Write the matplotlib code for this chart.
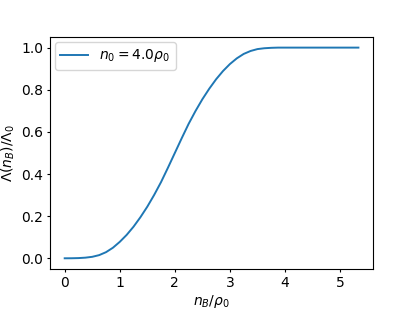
import matplotlib
matplotlib.use("Agg")
import matplotlib.pyplot as plt

# values
n_ratio = [0.0, 0.125, 0.25, 0.375, 0.5, 0.625, 0.75, 0.875, 1.0, 1.125, 1.25,
           1.375, 1.5, 1.625, 1.75, 1.875, 2.0, 2.125, 2.25, 2.375, 2.5, 2.625,
           2.75, 2.875, 3.0, 3.125, 3.25, 3.375, 3.5, 3.625, 3.75, 3.875, 4.0,
           4.5, 5.0, 5.333]
lam_ratio = [0.0, 0.0002, 0.001, 0.003, 0.007, 0.015, 0.029, 0.050, 0.078, 0.111,
             0.150, 0.195, 0.245, 0.301, 0.362, 0.430, 0.500, 0.570, 0.638, 0.699,
             0.755, 0.805, 0.850, 0.889, 0.922, 0.949, 0.970, 0.984, 0.993, 0.997,
             0.999, 1.0, 1.0, 1.0, 1.0, 1.0]

plt.rcParams['font.size'] = 10
plt.rcParams['xtick.major.size'] = 2.5
plt.rcParams['ytick.major.size'] = 2.5
plt.rcParams['xtick.major.pad'] = 2.5
plt.rcParams['ytick.major.pad'] = 2.5

fig, ax = plt.subplots(figsize=(4.15, 3.09), dpi=100)
fig.subplots_adjust(left=0.1205, right=0.899, top=0.88, bottom=0.13)

ax.plot(n_ratio, lam_ratio, color='tab:blue', linewidth=1.4, label=r'$n_0 = 4.0\rho_0$')

ax.set_xlabel(r'$n_B/\rho_0$', labelpad=2.0)
ax.set_ylabel(r'$\Lambda(n_B)/\Lambda_0$', labelpad=2.8)
ax.legend(loc='upper left', borderaxespad=0.35)

fig.savefig('out.png')
